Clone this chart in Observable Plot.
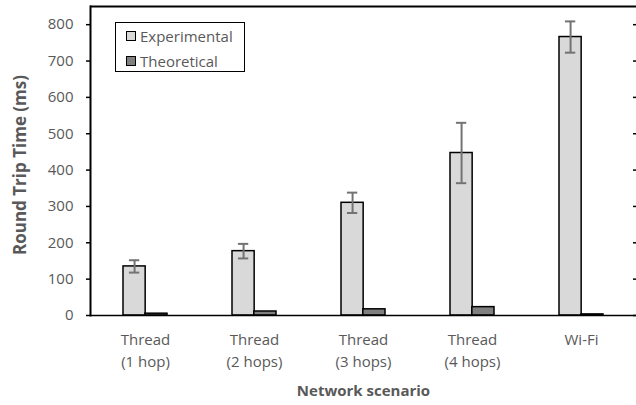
<!DOCTYPE html>
<html><head><meta charset="utf-8">
<script src="https://cdn.jsdelivr.net/npm/d3@7"></script>
<script src="https://cdn.jsdelivr.net/npm/@observablehq/plot@0.6"></script>
<style>
body{margin:0;background:#fff;font-family:"Open Sans",sans-serif;}
#wrap{position:relative;width:636px;height:405px;overflow:hidden;}
.legend{position:absolute;left:115px;top:22px;width:128px;height:48px;border:1.5px solid #000;background:#fff;font-size:15px;color:#595959;box-sizing:content-box;}
.item{position:absolute;left:10px;display:flex;align-items:center;height:20px;}
.sw{width:8px;height:8px;border:1.5px solid #000;margin-right:4px;}
</style></head>
<body><div id="wrap"></div>
<script>
const scenarios = ["Thread\n(1 hop)", "Thread\n(2 hops)", "Thread\n(3 hops)", "Thread\n(4 hops)", "Wi-Fi"];
const series = ["Experimental", "Theoretical"];
const seriesColors = ["#d9d9d9", "#808080"];
const experimental = [135, 177, 310, 447, 766];
const experimentalErr = [17, 20, 28, 83, 43];
const theoretical = [5, 11, 17, 23, 3];
const yTicks = [0, 100, 200, 300, 400, 500, 600, 700, 800];
const yMax = 850;
const yTitle = "Round Trip Time (ms)";
const xTitle = "Network scenario";

const W = 636, H = 405, ML = 90, MR = 0, MT = 6, MB = 90;
const step = (W - ML - MR) / scenarios.length;
const bw = step * 0.4;
const rows = scenarios.map((s, i) => ({scenario: s, exp: experimental[i], err: experimentalErr[i], theo: theoretical[i]}));
const errColor = "#737373";

const chart = Plot.plot({
  width: W, height: H, marginLeft: ML, marginRight: MR, marginTop: MT, marginBottom: MB,
  style: {fontFamily: "'Open Sans', sans-serif", fontSize: "15px", color: "#595959", background: "#fff"},
  x: {domain: scenarios, paddingInner: 0.6, paddingOuter: 0.3, label: null},
  y: {domain: [0, yMax], label: null},
  marks: [
    Plot.barY(rows, {x: "scenario", y: "exp", fill: seriesColors[0], stroke: "#000", strokeWidth: 1.5, insetRight: bw / 2}),
    Plot.barY(rows, {x: "scenario", y: "theo", fill: seriesColors[1], stroke: "#000", strokeWidth: 1.5, insetLeft: bw / 2}),
    Plot.ruleX(rows, {x: "scenario", y1: d => d.exp - d.err, y2: d => d.exp + d.err, dx: -bw / 4, stroke: errColor, strokeWidth: 2}),
    Plot.tickY(rows, {x: "scenario", y: d => d.exp + d.err, insetLeft: bw / 4 - 5, insetRight: 3 * bw / 4 - 5, stroke: errColor, strokeWidth: 2}),
    Plot.tickY(rows, {x: "scenario", y: d => d.exp - d.err, insetLeft: bw / 4 - 5, insetRight: 3 * bw / 4 - 5, stroke: errColor, strokeWidth: 2}),
    Plot.ruleY([0], {stroke: "#000", strokeWidth: 1.5}),
    Plot.ruleY([yMax], {stroke: "#000", strokeWidth: 2}),
    Plot.frame({anchor: "left", stroke: "#000", strokeWidth: 2}),
    Plot.axisY(yTicks, {anchor: "left", tickSize: 4, tickPadding: 13, stroke: "#000", strokeWidth: 1.5, fill: "#595959", fontSize: 15, label: null}),
    Plot.axisY(yTicks, {anchor: "right", tickSize: -4, stroke: "#000", strokeWidth: 1.5, tickFormat: () => "", label: null}),
    Plot.axisX({tickSize: 0, tickPadding: 14, lineHeight: 1.47, fill: "#595959", fontSize: 15, label: null}),
    Plot.text([yTitle], {frameAnchor: "left", textAnchor: "middle", dx: -70, dy: 4, rotate: -90, fontWeight: "bold", fill: "#595959", fontSize: 17}),
    Plot.text([xTitle], {frameAnchor: "bottom", dy: 80, fontWeight: "bold", fill: "#595959", fontSize: 15})
  ]
});
const wrap = document.getElementById("wrap");
wrap.appendChild(chart);
const lg = document.createElement("div");
lg.className = "legend";
series.forEach((s, i) => {
  const it = document.createElement("div");
  it.className = "item";
  it.style.top = (3 + i * 25) + "px";
  const sw = document.createElement("span");
  sw.className = "sw";
  sw.style.background = seriesColors[i];
  const t = document.createElement("span");
  t.textContent = s;
  it.appendChild(sw); it.appendChild(t);
  lg.appendChild(it);
});
wrap.appendChild(lg);
</script>
</body></html>
